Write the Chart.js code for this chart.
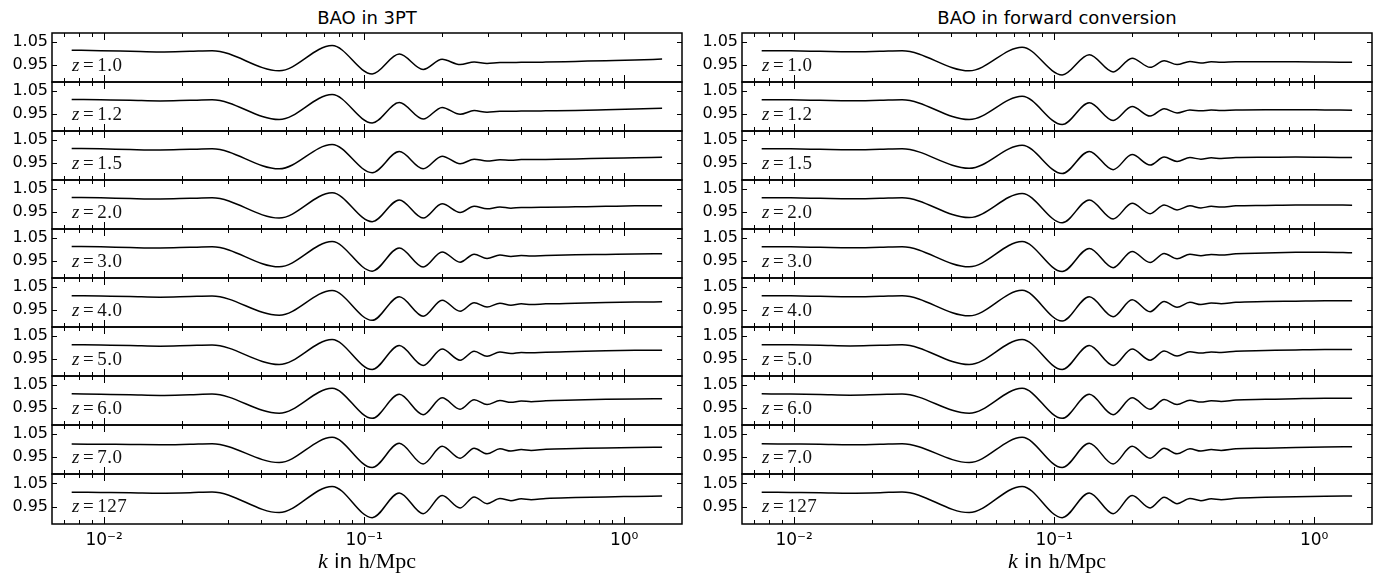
<!DOCTYPE html>
<html>
<head>
<meta charset="utf-8">
<script src="https://cdn.jsdelivr.net/npm/chart.js@4/dist/chart.umd.min.js"></script>
<style>
  body { margin: 0; background: #fff; }
  #wrap { position: relative; width: 1384px; height: 577px; overflow: hidden; }
  canvas { position: absolute; }
  .title { position: absolute; top: 7px; width: 630px; text-align: center; font: 18px "DejaVu Sans"; color: #000; }
  .zlab { position: absolute; font: 19px "Liberation Serif"; color: #111; line-height: 19px; letter-spacing: 0.5px; white-space: nowrap; }
  .xlab { position: absolute; top: 548px; width: 630px; text-align: center; font: 20px "DejaVu Sans"; color: #000; }
  .serif { font-family: "Liberation Serif"; font-size: 22px; }
</style>
</head>
<body>
<div id="wrap"></div>
<script>
// k values (h/Mpc): flat start, then the BAO peaks/troughs, then the tail
const K = [0.0075, 0.0097, 0.0126, 0.0164, 0.0214, 0.026,
  0.0471, 0.0753, 0.1074, 0.1365, 0.1687, 0.1995, 0.234, 0.265, 0.297, 0.333, 0.367, 0.402, 0.439,
  0.5, 0.65, 0.85, 1.1, 1.4];

const Z_LABELS = ['1.0', '1.2', '1.5', '2.0', '3.0', '4.0', '5.0', '6.0', '7.0', '127'];
const TITLES = ['BAO in 3PT', 'BAO in forward conversion'];
const X_TICKS = [0.01, 0.1, 1];
const X_TICK_LABELS = ['10\u207B\u00B2', '10\u207B\u00B9', '10\u2070'];
const Y_TICKS = [0.95, 1.05];

// BAO in 3PT
const pt_z1_0 = [1.015,1.013,1.010,1.007,1.010,1.013,
  0.925,1.035,0.911,0.998,0.931,0.975,0.952,0.963,0.957,0.961,0.961,0.962,0.962,
  0.963,0.966,0.969,0.972,0.976];
const pt_z1_2 = [1.014,1.012,1.010,1.007,1.010,1.012,
  0.926,1.035,0.911,1.000,0.928,0.979,0.949,0.965,0.958,0.962,0.962,0.963,0.963,
  0.964,0.966,0.969,0.972,0.975];
const pt_z1_5 = [1.014,1.012,1.009,1.007,1.010,1.012,
  0.925,1.031,0.908,1.000,0.925,0.980,0.947,0.967,0.959,0.964,0.962,0.965,0.965,
  0.966,0.968,0.971,0.973,0.975];
const pt_z2_0 = [1.014,1.012,1.009,1.007,1.010,1.012,
  0.924,1.034,0.908,1.003,0.924,0.986,0.948,0.975,0.964,0.972,0.967,0.970,0.970,
  0.971,0.973,0.975,0.977,0.978];
const pt_z3_0 = [1.014,1.012,1.009,1.007,1.010,1.012,
  0.925,1.035,0.906,1.007,0.924,0.990,0.945,0.980,0.961,0.976,0.970,0.974,0.972,
  0.974,0.977,0.979,0.981,0.982];
const pt_z4_0 = [1.013,1.011,1.009,1.006,1.009,1.011,
  0.927,1.035,0.905,1.008,0.923,0.993,0.945,0.982,0.963,0.980,0.971,0.977,0.974,
  0.977,0.980,0.983,0.985,0.986];
const pt_z5_0 = [1.013,1.011,1.009,1.006,1.009,1.011,
  0.926,1.035,0.904,1.009,0.922,0.994,0.945,0.984,0.962,0.981,0.974,0.979,0.977,
  0.980,0.983,0.986,0.988,0.989];
const pt_z6_0 = [1.012,1.010,1.008,1.005,1.008,1.011,
  0.927,1.036,0.905,1.010,0.921,0.995,0.945,0.986,0.965,0.983,0.975,0.981,0.978,
  0.982,0.985,0.988,0.990,0.991];
const pt_z7_0 = [1.007,1.006,1.005,1.004,1.006,1.008,
  0.926,1.036,0.904,1.010,0.920,0.997,0.945,0.988,0.964,0.986,0.976,0.983,0.979,
  0.984,0.987,0.990,0.992,0.993];
const pt_z127 = [1.012,1.011,1.010,1.008,1.010,1.013,
  0.925,1.037,0.903,1.009,0.920,0.998,0.945,0.992,0.963,0.985,0.976,0.984,0.980,
  0.985,0.989,0.992,0.994,0.996];

// BAO in forward conversion
const fc_z1_0 = [1.013,1.012,1.010,1.008,1.010,1.012,
  0.925,1.028,0.907,0.995,0.920,0.980,0.940,0.969,0.952,0.966,0.959,0.964,0.962,
  0.964,0.964,0.964,0.963,0.962];
const fc_z1_2 = [1.013,1.012,1.010,1.008,1.010,1.012,
  0.926,1.028,0.904,0.999,0.922,0.983,0.941,0.973,0.955,0.968,0.964,0.968,0.966,
  0.968,0.969,0.969,0.968,0.967];
const fc_z1_5 = [1.013,1.012,1.010,1.008,1.010,1.012,
  0.927,1.028,0.904,1.001,0.921,0.987,0.941,0.976,0.957,0.974,0.967,0.973,0.970,
  0.974,0.975,0.976,0.975,0.974];
const fc_z2_0 = [1.013,1.012,1.010,1.008,1.010,1.012,
  0.926,1.031,0.903,1.003,0.920,0.988,0.943,0.981,0.959,0.977,0.968,0.975,0.972,
  0.977,0.979,0.981,0.981,0.980];
const fc_z3_0 = [1.013,1.012,1.010,1.008,1.010,1.012,
  0.925,1.035,0.904,1.005,0.921,0.992,0.944,0.983,0.960,0.980,0.973,0.979,0.976,
  0.982,0.985,0.988,0.989,0.986];
const fc_z4_0 = [1.013,1.012,1.010,1.008,1.010,1.012,
  0.925,1.036,0.902,1.008,0.921,0.995,0.943,0.987,0.962,0.984,0.974,0.981,0.978,
  0.984,0.987,0.989,0.991,0.991];
const fc_z5_0 = [1.013,1.012,1.010,1.007,1.010,1.012,
  0.926,1.035,0.904,1.009,0.922,0.994,0.945,0.985,0.963,0.982,0.976,0.981,0.979,
  0.984,0.987,0.990,0.992,0.992];
const fc_z6_0 = [1.012,1.011,1.009,1.006,1.009,1.011,
  0.927,1.036,0.905,1.010,0.921,0.995,0.945,0.987,0.965,0.984,0.976,0.982,0.979,
  0.985,0.988,0.991,0.993,0.993];
const fc_z7_0 = [1.008,1.007,1.006,1.004,1.006,1.008,
  0.926,1.036,0.904,1.010,0.920,0.997,0.945,0.988,0.964,0.986,0.976,0.983,0.979,
  0.986,0.989,0.992,0.994,0.995];
const fc_z127 = [1.012,1.011,1.010,1.008,1.010,1.013,
  0.925,1.037,0.903,1.009,0.920,0.998,0.945,0.991,0.963,0.985,0.976,0.984,0.980,
  0.986,0.990,0.993,0.995,0.996];

const columns = [
  [pt_z1_0, pt_z1_2, pt_z1_5, pt_z2_0, pt_z3_0, pt_z4_0, pt_z5_0, pt_z6_0, pt_z7_0, pt_z127],
  [fc_z1_0, fc_z1_2, fc_z1_5, fc_z2_0, fc_z3_0, fc_z4_0, fc_z5_0, fc_z6_0, fc_z7_0, fc_z127]
];

const X_MIN = 0.0063, X_MAX = 1.67;
const Y_MIN = 0.876, Y_MAX = 1.09;

// panel frame + inward ticks like matplotlib
const framePlugin = {
  id: 'frame',
  afterDatasetsDraw(chart) {
    const ctx = chart.ctx;
    const a = chart.chartArea;
    const xs = chart.scales.x;
    const ys = chart.scales.y;
    ctx.save();
    ctx.strokeStyle = '#000';
    ctx.lineWidth = 1;
    ctx.beginPath();
    for (let d = -3; d <= 0; d++) {
      for (let m = 1; m <= 9; m++) {
        const v = m * Math.pow(10, d);
        if (v < X_MIN || v > X_MAX) continue;
        const px = Math.round(xs.getPixelForValue(v)) + 0.5;
        const len = m === 1 ? 7 : 4;
        ctx.moveTo(px, a.top); ctx.lineTo(px, a.top + len);
        ctx.moveTo(px, a.bottom); ctx.lineTo(px, a.bottom - len);
      }
    }
    Y_TICKS.forEach(v => {
      const py = Math.round(ys.getPixelForValue(v)) + 0.5;
      ctx.moveTo(a.left, py); ctx.lineTo(a.left + 5, py);
      ctx.moveTo(a.right, py); ctx.lineTo(a.right - 5, py);
    });
    ctx.stroke();
    ctx.lineWidth = 1.5;
    ctx.strokeRect(a.left, a.top, a.right - a.left, a.bottom - a.top);
    ctx.restore();
  }
};

const wrap = document.getElementById('wrap');
const tickFont = {family: 'DejaVu Sans', size: 16};

// no extra room for half tick labels, panels must butt against each other
function noPad(s) {
  s.paddingTop = 0;
  s.paddingBottom = 0;
  s.paddingLeft = 0;
  s.paddingRight = 0;
}

function makePanel(col, row, values) {
  const last = row === 9;
  const canvas = document.createElement('canvas');
  canvas.width = 684;
  canvas.height = last ? 80 : 51;
  canvas.style.left = (col * 690) + 'px';
  canvas.style.top = (32 + row * 49) + 'px';
  wrap.appendChild(canvas);

  new Chart(canvas.getContext('2d'), {
    type: 'line',
    data: {
      datasets: [{
        data: K.map((k, i) => ({x: k, y: values[i]})),
        borderColor: '#000',
        borderWidth: 1.5,
        pointRadius: 0,
        cubicInterpolationMode: 'monotone',
        fill: false
      }]
    },
    options: {
      responsive: false,
      animation: false,
      events: [],
      layout: {padding: {top: 1, bottom: 1, left: 0, right: 2}},
      plugins: {legend: {display: false}, tooltip: {enabled: false}},
      scales: {
        x: {
          type: 'logarithmic',
          min: X_MIN,
          max: X_MAX,
          display: last,
          grid: {display: false, drawTicks: false},
          border: {display: false},
          ticks: {
            font: {family: 'DejaVu Sans', size: 17}, color: '#000', padding: 6, autoSkip: false, maxRotation: 0,
            callback: (v) => {
              const i = X_TICKS.findIndex(t => Math.abs(t - v) < t * 1e-6);
              return i < 0 ? '' : X_TICK_LABELS[i];
            }
          },
          afterBuildTicks: (s) => { s.ticks = X_TICKS.map(v => ({value: v})); },
          afterFit: (s) => { s.height = last ? 28 : 0; noPad(s); }
        },
        y: {
          min: Y_MIN,
          max: Y_MAX,
          grid: {display: false, drawTicks: false},
          border: {display: false},
          ticks: {font: tickFont, color: '#000', padding: 4, autoSkip: false, callback: (v) => v.toFixed(2)},
          afterBuildTicks: (s) => { s.ticks = Y_TICKS.map(v => ({value: v})); },
          afterFit: (s) => { s.width = 52; noPad(s); }
        }
      }
    },
    plugins: [framePlugin]
  });

  const lab = document.createElement('div');
  lab.className = 'zlab';
  lab.style.left = (col * 690 + 72) + 'px';
  lab.style.top = (33 + row * 49 + 22) + 'px';
  lab.innerHTML = '<i>z</i><span style="margin:0 3px">=</span>' + Z_LABELS[row];
  wrap.appendChild(lab);
}

columns.forEach((series, col) => {
  series.forEach((values, row) => makePanel(col, row, values));

  const t = document.createElement('div');
  t.className = 'title';
  t.style.left = (col * 690 + 52) + 'px';
  t.textContent = TITLES[col];
  wrap.appendChild(t);

  const xl = document.createElement('div');
  xl.className = 'xlab';
  xl.style.left = (col * 690 + 52) + 'px';
  xl.innerHTML = '<i class="serif">k</i> in <span class="serif">h/Mpc</span>';
  wrap.appendChild(xl);
});
</script>
</body>
</html>
